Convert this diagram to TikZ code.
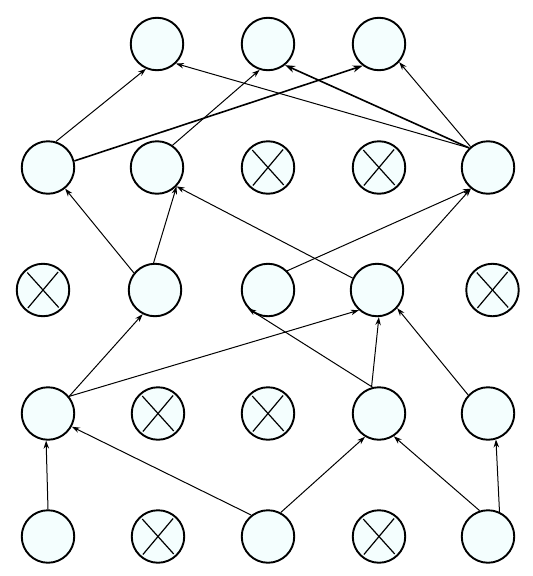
\documentclass[tikz,border=0pt]{standalone}
\usetikzlibrary{arrows.meta}
\definecolor{nodefill}{RGB}{244,254,254}
\tikzset{
  unit/.style={circle, draw=black, line width=1.9pt, fill=nodefill, inner sep=0pt, minimum size=52.5pt},
  pruned/.style={unit, path picture={
      \draw[line width=1.2pt] ([shift={(132:23.5pt)}]path picture bounding box.center) -- ([shift={(312:23.5pt)}]path picture bounding box.center);
      \draw[line width=1.2pt] ([shift={(50:23.5pt)}]path picture bounding box.center) -- ([shift={(230:23.5pt)}]path picture bounding box.center);}},
  conn/.style={line width=1pt, -{Stealth[length=8pt,width=5.5pt]}},
  thickconn/.style={line width=1.6pt, -{Stealth[length=10pt,width=7pt]}}
}
\begin{document}
\begin{tikzpicture}[x=1pt,y=-1pt]
\useasboundingbox (0,0) rectangle (533,576);
% top row
\node[unit] (t1) at (157,44) {};
\node[unit] (t2) at (268,44) {};
\node[unit] (t3) at (379,44) {};
% row 2
\node[unit] (a1) at (48,167.5) {};
\node[unit] (a2) at (157,167.5) {};
\node[pruned] (a3) at (268,167.5) {};
\node[pruned] (a4) at (379,167.5) {};
\node[unit] (a5) at (488,167.5) {};
% row 3
\node[pruned] (b1) at (43,290) {};
\node[unit] (b2) at (155,290) {};
\node[unit] (b3) at (268,290) {};
\node[unit] (b4) at (377,290) {};
\node[pruned] (b5) at (492.5,290) {};
% row 4
\node[unit] (c1) at (48,413.5) {};
\node[pruned] (c2) at (158,413.5) {};
\node[pruned] (c3) at (268,413.5) {};
\node[unit] (c4) at (379,413.5) {};
\node[unit] (c5) at (488,413.5) {};
% row 5
\node[unit] (d1) at (48,536.5) {};
\node[pruned] (d2) at (158,536.5) {};
\node[unit] (d3) at (268,536.5) {};
\node[pruned] (d4) at (379,536.5) {};
\node[unit] (d5) at (488,536.5) {};
% row 2 -> top
\draw[conn] (a1.73) -- (t1.246);
\draw[conn] (a2.55) -- (t2.252);
\draw[thickconn] (a1.14) -- (t3.233);
\draw[conn] (a5.134) -- (t1.314);
\draw[thickconn] (a5.134) -- (t2.309);
\draw[conn] (a5.130) -- (t3.318);
% row 3 -> row 2
\draw[conn] (b2.141) -- (a1.309);
\draw[conn] (b2.93) -- (a2.316);
\draw[conn] (b4.154) -- (a2.316);
\draw[conn] (b3.45) -- (a5.231);
\draw[conn] (b4.43) -- (a5.231);
% row 4 -> row 3
\draw[conn] (c1.39) -- (b2.243);
\draw[conn] (c1.39) -- (b4.228);
\draw[conn] (c4.104) -- (b3.223);
\draw[conn] (c4.106) -- (b4.274);
\draw[conn] (c5.137) -- (b4.318);
% row 5 -> row 4
\draw[conn] (d1.90) -- (c1.266);
\draw[conn] (d3.128) -- (c1.331);
\draw[conn] (d3.62) -- (c4.239);
\draw[conn] (d5.108) -- (c4.303);
\draw[conn] (d5.65) -- (c5.287);
\end{tikzpicture}
\end{document}
